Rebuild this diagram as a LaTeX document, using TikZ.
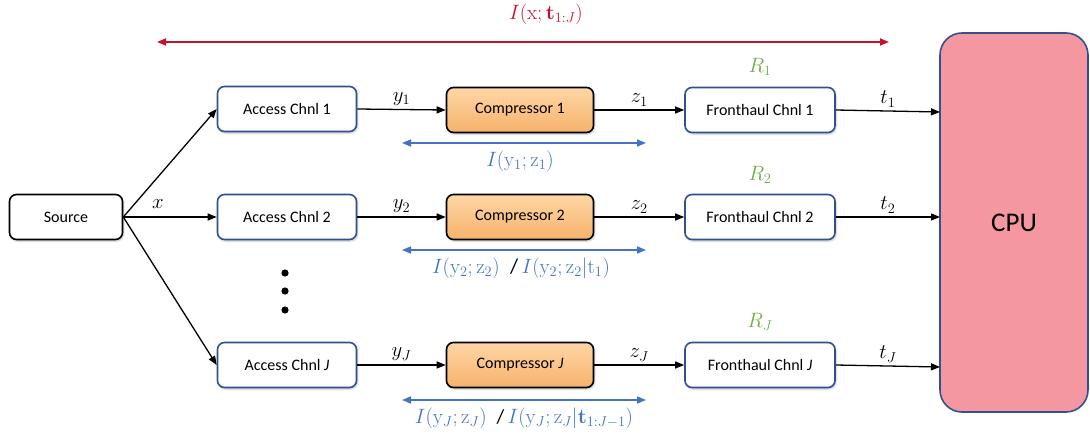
\documentclass[tikz,border=0pt]{standalone}
\usepackage[no-math]{fontspec}
\setmainfont{Carlito}
\usetikzlibrary{arrows.meta,shadows.blur}
\definecolor{navy}{HTML}{2F528F}
\definecolor{ablue}{HTML}{4472C4}
\definecolor{ared}{HTML}{C8102E}
\definecolor{agreen}{HTML}{70AD47}
\definecolor{cpupink}{HTML}{F597A1}
\definecolor{orTop}{HTML}{FFD6A6}
\definecolor{orBot}{HTML}{F6B26B}
\begin{document}
\begin{tikzpicture}[x=1pt,y=-1pt,
  box/.style={draw, rounded corners=7pt, line width=1.6pt, minimum width=139pt, minimum height=45pt, font=\fontsize{16}{18}\selectfont, fill=white, blur shadow={shadow blur steps=5, shadow xshift=1pt, shadow yshift=-1.5pt, shadow opacity=25}},
  chnl/.style={box, draw=navy},
  comp/.style={box, draw=black, minimum width=147pt, top color=orTop, bottom color=orBot},
  fh/.style={chnl, minimum width=150pt},
  arr/.style={-{Triangle[length=9pt,width=7pt]}, line width=1.3pt},
  barr/.style={{Triangle[length=9pt,width=7pt]}-{Triangle[length=9pt,width=7pt]}, line width=1.6pt, ablue},
  mlab/.style={font=\fontsize{22}{24}\selectfont},
  ilab/.style={font=\fontsize{21}{23}\selectfont, text=ablue},
  rlab/.style={font=\fontsize{22}{24}\selectfont, text=agreen}
]
\useasboundingbox (0,0) rectangle (1090,439);

\node[box, draw=black, minimum width=113pt] (src) at (66,217) {Source};

\node[chnl] (a1) at (287,109) {Access Chnl 1};
\node[chnl] (a2) at (287,217) {Access Chnl 2};
\node[chnl] (aJ) at (287,365) {Access Chnl \textit{J}};

\node[comp] (c1) at (520,110) {Compressor 1};
\node[comp] (c2) at (520,217) {Compressor 2};
\node[comp] (cJ) at (520,365) {Compressor \textit{J}};

\node[fh] (f1) at (760,110) {Fronthaul Chnl 1};
\node[fh] (f2) at (760,217) {Fronthaul Chnl 2};
\node[fh] (fJ) at (760,365) {Fronthaul Chnl \textit{J}};

\node[draw=navy, line width=1.6pt, fill=cpupink, rounded corners=22pt, minimum width=148pt, minimum height=379pt, font=\fontsize{27}{30}\selectfont] (cpu) at (1014,222.5) {CPU};

% source fan-out
\draw[arr] (src.east) -- (a1.west);
\draw[arr] (src.east) -- (a2.west);
\draw[arr] (src.east) -- (aJ.west);
\node[mlab] (xl) at (158,204) {$x$};

% dots
\foreach \yy [count=\i] in {273,291,310}
  \fill (285,\yy) circle (3.6pt);

% rows
\draw[arr] (a1.east) -- (c1.west) node[mlab, midway, above=0pt] {$y_1$};
\draw[arr] (c1.east) -- (f1.west) node[mlab, midway, above=0pt] {$z_1$};
\coordinate (e1) at (940,112);
\draw[arr] (f1.east) -- (e1) node[mlab, pos=0.5, above=0pt] {$t_1$};

\draw[arr] (a2.east) -- (c2.west) node[mlab, midway, above=0pt] {$y_2$};
\draw[arr] (c2.east) -- (f2.west) node[mlab, midway, above=0pt] {$z_2$};
\coordinate (e2) at (940,217);
\draw[arr] (f2.east) -- (e2) node[mlab, pos=0.5, above=0pt] {$t_2$};

\draw[arr] (aJ.east) -- (cJ.west) node[mlab, midway, above=0pt] {$y_J$};
\draw[arr] (cJ.east) -- (fJ.west) node[mlab, midway, above=0pt] {$z_J$};
\coordinate (eJ) at (940,367);
\draw[arr] (fJ.east) -- (eJ) node[mlab, pos=0.5, above=0pt] {$t_J$};

% rates
\node[rlab] (r1) at (760,67) {$R_1$};
\node[rlab] (r2) at (760,175) {$R_2$};
\node[rlab] (rJ) at (760,322) {$R_J$};

% mutual information arrows
\coordinate (ra) at (157,42);
\coordinate (rb) at (889,42);
\draw[{Triangle[length=9pt,width=7pt]}-{Triangle[length=9pt,width=7pt]}, line width=1.8pt, ared] (ra) -- (rb);
\node[font=\fontsize{20}{22}\selectfont, text=ared] (il) at (546,14) {$I(\mathrm{x};\mathbf{t}_{1:J})$};

\coordinate (b1a) at (402,143); \coordinate (b1b) at (646,143);
\draw[barr] (b1a) -- (b1b);
\node[ilab] (i1) at (520,161) {$I(\mathrm{y}_1;\mathrm{z}_1)$};

\coordinate (b2a) at (402,250); \coordinate (b2b) at (646,250);
\draw[barr] (b2a) -- (b2b);
\node[ilab] (i2) at (521,268) {$I(\mathrm{y}_2;\mathrm{z}_2)$\enspace\textcolor{black}{/}\,$I(\mathrm{y}_2;\mathrm{z}_2|\mathrm{t}_1)$};

\coordinate (bJa) at (402,400); \coordinate (bJb) at (646,400);
\draw[barr] (bJa) -- (bJb);
\node[ilab, font=\fontsize{20}{22}\selectfont] (iJ) at (524,418) {$I(\mathrm{y}_J;\mathrm{z}_J)$\enspace\textcolor{black}{/}\,$I(\mathrm{y}_J;\mathrm{z}_J|\mathbf{t}_{1:J-1})$};
\end{tikzpicture}
\end{document}
